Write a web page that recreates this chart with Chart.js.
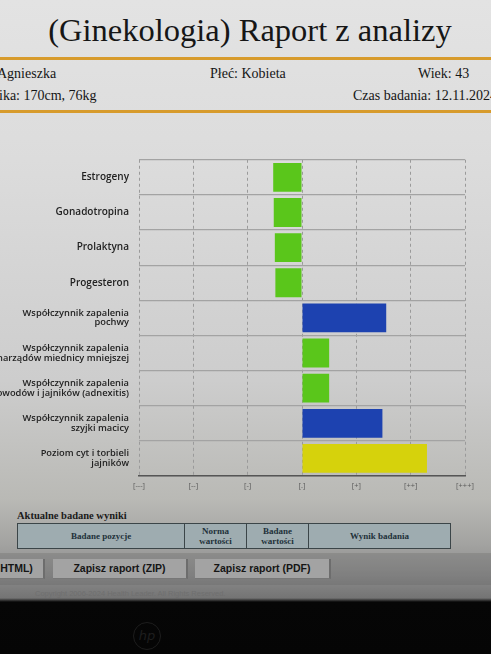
<!DOCTYPE html>
<html>
<head>
<meta charset="utf-8">
<script src="https://cdn.jsdelivr.net/npm/chart.js@4/dist/chart.umd.min.js"></script>
<style>
  html, body { margin: 0; padding: 0; }
  body {
    width: 491px; height: 654px; overflow: hidden; position: relative;
    background: linear-gradient(to bottom, #e3e3e3 0px, #dcdcdc 160px, #cdcdcd 380px,
      #b9b9b5 500px, #a2a2a0 545px, #8c8c8c 575px, #747474 598px, #060606 602px, #050505 654px);
    font-family: "Liberation Serif", "DejaVu Serif", serif;
  }
  .abs { position: absolute; white-space: nowrap; }
  .title { left: 0; width: 500px; top: 12px; text-align: center; font-size: 32.5px; color: #161616; }
  .rule { left: 0; width: 491px; height: 3px; background: #d79b2c; }
  .info { font-size: 14px; color: #151515; }
  #chartBox { position: absolute; left: 0; top: 140px; width: 491px; height: 357px; }
  .caption { left: 17px; top: 510px; font-size: 10.5px; font-weight: bold; color: #1b1b1b; }
  table.hdr { position: absolute; left: 17px; top: 523px; width: 434px; height: 26px;
    border-collapse: collapse; background: #9eacb0; font-size: 9px; font-weight: bold; color: #22313a; }
  table.hdr td { border: 1px solid #3b4548; text-align: center; line-height: 10px; padding: 0; }
  .band { left: 0; top: 553px; width: 491px; height: 32px; background: rgba(90,90,90,0.25); }
  .btn { top: 559px; height: 19px; line-height: 19px; background: #a3a3a3; border-right: 2px solid #6d6d6d;
    border-bottom: 1px solid #777; font-family: "Liberation Sans", Arial, sans-serif; font-weight: bold;
    font-size: 10.5px; color: #151515; text-align: center; }
  .copy { left: 35px; top: 589px; font-family: "Liberation Sans", sans-serif; font-size: 7.5px; color: #6f6f6f; }
  .logo { left: 133px; top: 622px; width: 26px; height: 26px; border-radius: 50%; border: 1px solid #1d1d1d;
    font-family: "DejaVu Sans", sans-serif; font-style: italic; font-size: 13px; color: #1e1e1e;
    text-align: center; line-height: 26px; }
</style>
</head>
<body>
<div class="abs title">(Ginekologia) Raport z analizy</div>
<div class="abs rule" style="top:57px"></div>
<div class="abs info" style="left:-3px; top:66px">Agnieszka</div>
<div class="abs info" style="left:210px; top:66px">Płeć: Kobieta</div>
<div class="abs info" style="left:418px; top:66px">Wiek: 43</div>
<div class="abs info" style="left:-1px; top:88px">ika: 170cm, 76kg</div>
<div class="abs info" style="left:353px; top:88px">Czas badania: 12.11.2024</div>
<div class="abs rule" style="top:110px"></div>

<div id="chartBox"><canvas id="ctx"></canvas></div>

<div class="abs caption">Aktualne badane wyniki</div>
<table class="hdr">
  <tr>
    <td style="width:166px">Badane pozycje</td>
    <td style="width:61px">Norma<br>wartości</td>
    <td style="width:61px">Badane<br>wartości</td>
    <td>Wynik badania</td>
  </tr>
</table>
<div class="abs band"></div>
<div class="abs btn" style="left:-10px; width:53px">HTML)</div>
<div class="abs btn" style="left:53px; width:133px">Zapisz raport (ZIP)</div>
<div class="abs btn" style="left:195px; width:134px">Zapisz raport (PDF)</div>
<div class="abs copy">Copyright 2006-2024 Health Leader. All Rights Reserved.</div>
<div class="abs logo">hp</div>

<script>
// categories shown on the left side of the chart
const categories = [
  "Estrogeny",
  "Gonadotropina",
  "Prolaktyna",
  "Progesteron",
  ["Współczynnik zapalenia", "pochwy"],
  ["Współczynnik zapalenia", "narządów miednicy mniejszej"],
  ["Współczynnik zapalenia", "jajowodów i jajników (adnexitis)"],
  ["Współczynnik zapalenia", "szyjki macicy"],
  ["Poziom cyt i torbieli", "jajników"]
];

// deviation from the norm (0 = centre of the scale)
const results = [-0.53, -0.52, -0.5, -0.49, 1.55, 0.5, 0.5, 1.48, 2.3];

// severity of each result, decides the bar colour
const levels = ["norm", "norm", "norm", "norm", "mild", "norm", "norm", "mild", "moderate"];

// labels under the x axis, from -3 to +3
const tickLabels = ["[---]", "[--]", "[-]", "[.]", "[+]", "[++]", "[+++]"];

const levelColors = { norm: "#5ac61b", mild: "#1d42b0", moderate: "#d6d20c" };

const cvs = document.getElementById("ctx").getContext("2d");

new Chart(cvs, {
  type: "bar",
  data: {
    labels: categories,
    datasets: [
      {
        data: results,
        backgroundColor: levels.map((l) => levelColors[l]),
        borderWidth: 0,
        barPercentage: 0.82,
        categoryPercentage: 1
      }
    ]
  },
  options: {
    indexAxis: "y",
    responsive: true,
    maintainAspectRatio: false,
    animation: false,
    layout: { padding: { top: 15, right: 26, bottom: 2, left: 0 } },
    plugins: { legend: { display: false }, tooltip: { enabled: false } },
    scales: {
      x: {
        min: -3,
        max: 3,
        ticks: {
          stepSize: 1,
          padding: 5,
          color: "#5a5a5a",
          font: { family: "Open Sans", size: 7.5 },
          callback: (v) => tickLabels[v + 3]
        },
        grid: { color: "#9a9a9a", drawTicks: false, lineWidth: 1 },
        border: { display: true, color: "#555", width: 1.5, dash: [3, 3] }
      },
      y: {
        afterFit: (scale) => { scale.width = 139; },
        ticks: {
          padding: 10,
          color: "#222",
          // the single line labels look a bit bigger in the report
          font: (c) => ({
            family: "Open Sans",
            size: Array.isArray(categories[c.index]) ? 9.3 : 10,
            weight: 600,
            lineHeight: 1.05
          })
        },
        grid: { offset: true, color: "#a3a3a3", drawTicks: false, lineWidth: 1.2 },
        border: { display: false }
      }
    }
  }
});
</script>
</body>
</html>
